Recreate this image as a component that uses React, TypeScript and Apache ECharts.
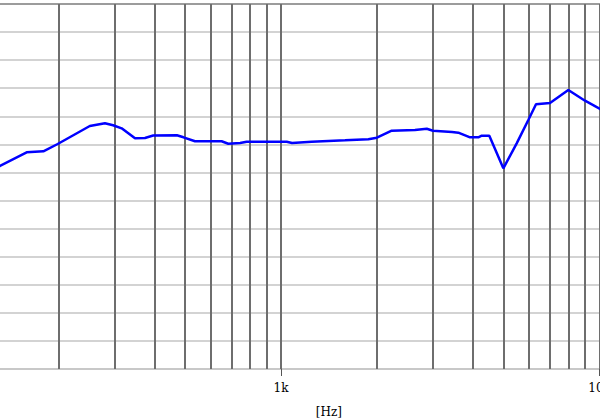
import React, { useEffect, useRef } from "react";
import * as echarts from "echarts";

// Frequency response (Hz) and level (dB)
const freqs: number[] = [
  126.5, 131.1, 159, 179.4, 199, 251, 280, 297, 316, 348, 374, 397, 471, 494, 537,
  651, 683, 744, 780, 1042, 1083, 1248, 1588, 1880, 2000, 2226, 2634, 2868, 3000,
  3442, 3603, 3922, 4164, 4267, 4508, 4989, 5495, 5977, 6318, 6991, 7980, 9005,
  10037, 10481,
];
const levels: number[] = [
  70.69, 71.15, 73.59, 73.77, 75.07, 78.27, 78.75, 78.4, 77.86, 76.08, 76.14, 76.58,
  76.62, 76.26, 75.55, 75.55, 75.12, 75.25, 75.48, 75.48, 75.25, 75.48, 75.73, 75.91,
  76.19, 77.44, 77.56, 77.79, 77.44, 77.21, 77.08, 76.26, 76.26, 76.55, 76.55, 70.74,
  75.19, 79.34, 82.14, 82.37, 84.68, 82.78, 81.3, 80.71,
];

// Vertical grid lines (Hz)
const gridFreqs: number[] = [
  200, 300, 400, 500, 600, 700, 800, 900, 1000,
  2000, 3000, 4000, 5000, 6000, 7000, 8000, 9000, 10000, 20000,
];

// Tick labels (the 100 Hz tick lies outside the visible window)
const tickValues: number[] = [1000, 10000];
const tickLabels: string[] = ["1k", "10k"];

const X_MIN = 100;
const X_MAX = 20000;
const Y_MIN = 35;
const Y_MAX = 100;
const Y_STEP = 5;

export default function App() {
  const ref = useRef<HTMLDivElement>(null);

  useEffect(() => {
    if (!ref.current) return;
    const chart = echarts.init(ref.current, undefined, { renderer: "svg" });
    const data = freqs.map((f, i) => [f, levels[i]]);
    chart.setOption({
      animation: false,
      grid: {
        left: 62.5,
        top: 4,
        width: 732.9,
        bottom: 49,
        containLabel: false,
        outerBoundsMode: "none",
      },
      xAxis: [
        {
          type: "log",
          logBase: 10,
          min: X_MIN,
          max: X_MAX,
          name: "[Hz]",
          nameLocation: "middle",
          nameGap: 37,
          nameTextStyle: { fontFamily: "DejaVu Serif", fontSize: 12, color: "#000" },
          axisLine: { show: true, lineStyle: { color: "#c4c4c4", width: 1.5 } },
          axisTick: { show: true, length: 7, lineStyle: { color: "#555", width: 1 } },
          axisLabel: {
            show: true,
            margin: 13,
            fontFamily: "DejaVu Serif",
            fontSize: 12,
            color: "#000",
            formatter: (v: number) => {
              const idx = tickValues.findIndex((t) => Math.abs(t - v) < 1e-6 * t);
              return idx >= 0 ? tickLabels[idx] : "";
            },
          },
          splitLine: { show: false },
          minorTick: { show: false },
        },
        {
          type: "log",
          logBase: 10,
          min: X_MIN,
          max: X_MAX,
          position: "top",
          axisLine: { show: true, lineStyle: { color: "#8a8a8a", width: 1.5 } },
          axisTick: { show: false },
          axisLabel: { show: false },
          splitLine: { show: false },
        },
      ],
      yAxis: {
        type: "value",
        min: Y_MIN,
        max: Y_MAX,
        interval: Y_STEP,
        axisLine: { show: false },
        axisTick: { show: false },
        axisLabel: { show: false },
        splitLine: { show: true, lineStyle: { color: "#c4c4c4", width: 1.5 } },
      },
      series: [
        {
          type: "line",
          xAxisIndex: 0,
          data,
          showSymbol: false,
          symbol: "none",
          lineStyle: { color: "#0000ff", width: 2.5 },
          z: 5,
          markLine: {
            silent: true,
            symbol: ["none", "none"],
            label: { show: false },
            z: 1,
            lineStyle: { color: "#6e6e6e", width: 2, type: "solid" },
            data: gridFreqs.map((f) => ({ xAxis: f })),
          },
        },
      ],
    });
    return () => chart.dispose();
  }, []);

  return (
    <div
      style={{
        position: "fixed",
        left: 0,
        top: 0,
        width: 600,
        height: 418,
        overflow: "hidden",
        background: "#fff",
      }}
    >
      <div
        ref={ref}
        style={{ position: "absolute", left: -100, top: 0, width: 900, height: 418 }}
      />
    </div>
  );
}
